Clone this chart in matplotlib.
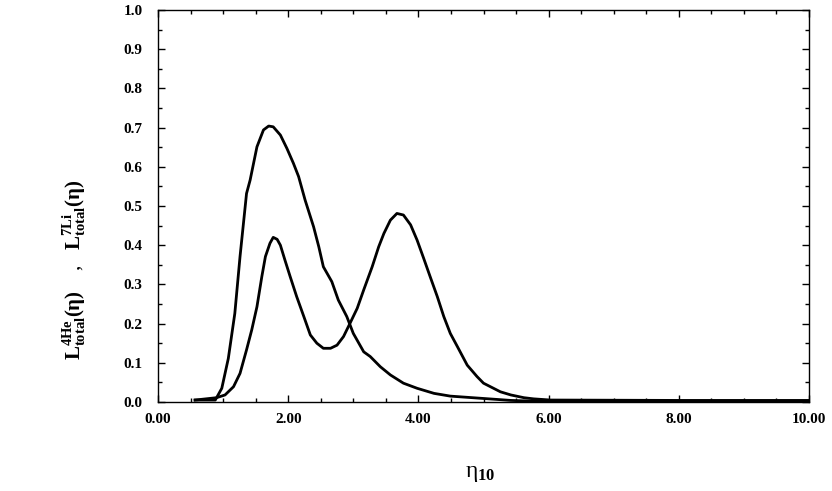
import matplotlib
matplotlib.use('Agg')
import matplotlib.pyplot as plt
from matplotlib.ticker import MultipleLocator, FormatStrFormatter

plt.rcParams['font.family'] = 'Liberation Serif'
plt.rcParams['mathtext.fontset'] = 'custom'
plt.rcParams['mathtext.rm'] = 'Liberation Serif'
plt.rcParams['mathtext.it'] = 'Liberation Serif:italic'
plt.rcParams['mathtext.bf'] = 'Liberation Serif:bold'

# 4He likelihood (tall peak, long tail)
eta_he = [0.57, 0.88, 0.98, 1.08, 1.18, 1.26, 1.36, 1.415, 1.52, 1.62, 1.70,
          1.77, 1.88, 1.98, 2.08, 2.16, 2.26, 2.39, 2.47, 2.54, 2.67, 2.77,
          2.90, 3.00, 3.16, 3.26, 3.415, 3.57, 3.77, 3.98, 4.24, 4.49, 5.00,
          5.42, 6.00, 8.00, 10.00]
L_he = [0.005, 0.005, 0.035, 0.111, 0.226, 0.371, 0.532, 0.566, 0.651, 0.694,
        0.704, 0.702, 0.681, 0.647, 0.609, 0.575, 0.515, 0.447, 0.396, 0.345,
        0.307, 0.260, 0.218, 0.175, 0.128, 0.116, 0.090, 0.069, 0.048, 0.035,
        0.022, 0.015, 0.009, 0.004, 0.001, 0.001, 0.001]

# 7Li likelihood (double peak)
eta_li = [0.57, 0.90, 1.03, 1.16, 1.26, 1.36, 1.44, 1.52, 1.595, 1.65, 1.72,
          1.77, 1.83, 1.88, 1.95, 2.03, 2.13, 2.24, 2.34, 2.44, 2.54, 2.65,
          2.75, 2.85, 2.95, 3.06, 3.16, 3.29, 3.39, 3.47, 3.57, 3.67, 3.77,
          3.88, 3.98, 4.08, 4.18, 4.29, 4.39, 4.49, 4.60, 4.75, 4.90, 5.00,
          5.26, 5.42, 5.62, 5.77, 6.03, 8.00, 10.00]
L_li = [0.005, 0.011, 0.018, 0.039, 0.073, 0.133, 0.184, 0.243, 0.320, 0.371,
        0.405, 0.420, 0.415, 0.400, 0.362, 0.320, 0.269, 0.218, 0.171, 0.150,
        0.137, 0.137, 0.145, 0.167, 0.201, 0.239, 0.286, 0.345, 0.396, 0.430,
        0.464, 0.481, 0.477, 0.452, 0.413, 0.367, 0.320, 0.269, 0.218, 0.175,
        0.141, 0.094, 0.065, 0.048, 0.026, 0.018, 0.011, 0.008, 0.005, 0.004,
        0.004]

fig = plt.figure(figsize=(8.32, 4.91), dpi=100)
ax = fig.add_axes([158 / 832, 1 - 402 / 491, (809 - 158) / 832, (402 - 10) / 491])

ax.plot(eta_he, L_he, color='black', lw=2.0)
ax.plot(eta_li, L_li, color='black', lw=2.0)

ax.set_xlim(0, 10)
ax.set_ylim(0, 1.0)
ax.xaxis.set_major_locator(MultipleLocator(2))
ax.xaxis.set_minor_locator(MultipleLocator(0.5))
ax.yaxis.set_major_locator(MultipleLocator(0.1))
ax.yaxis.set_minor_locator(MultipleLocator(0.05))
ax.xaxis.set_major_formatter(FormatStrFormatter('%.2f'))
ax.yaxis.set_major_formatter(FormatStrFormatter('%.1f'))

ax.tick_params(which='both', direction='in', top=True, right=True, width=1)
ax.tick_params(which='major', length=5)
ax.tick_params(which='minor', length=3)
ax.tick_params(axis='x', which='major', pad=8)
ax.tick_params(axis='y', which='major', pad=11)
for lab in ax.get_xticklabels() + ax.get_yticklabels():
    lab.set_fontweight('bold')
    lab.set_fontsize(11)
for sp in ax.spines.values():
    sp.set_linewidth(1.0)

fig.text(480 / 832, 1 - 474 / 491, r'$\mathrm{\eta}_{\mathbf{10}}$',
         fontsize=17, ha='center', va='center')
fig.text(74 / 832, 1 - 270 / 491,
         r'$\mathbf{L^{4He}_{total}(\eta)}$    ,   $\mathbf{L^{7Li}_{total}(\eta)}$',
         fontsize=15, rotation=90, ha='center', va='center')

fig.savefig('out.png', dpi=100)
